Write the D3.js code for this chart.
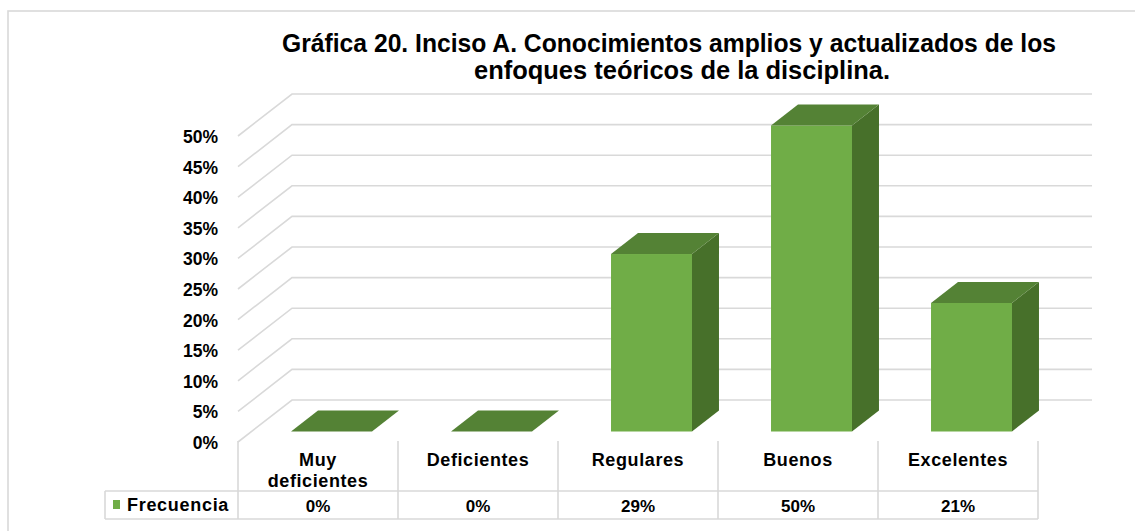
<!DOCTYPE html>
<html>
<head>
<meta charset="utf-8">
<script src="https://cdn.jsdelivr.net/npm/d3@7"></script>
<style>
  body{margin:0;background:#fff;}
  svg{display:block;font-family:"Liberation Sans",Arial,sans-serif;}
  .grid{fill:none;stroke:#d9d9d9;stroke-width:1.6;}
  .tbl{stroke:#d9d9d9;stroke-width:1.6;}
  text{fill:#000;font-weight:bold;}
</style>
</head>
<body>
<div id="chart"></div>
<script>
const titleLines=['Gráfica 20. Inciso A. Conocimientos amplios y actualizados de los','enfoques teóricos de la disciplina.'];
const categories=['Muy deficientes','Deficientes','Regulares','Buenos','Excelentes'];
const catLabels=[['Muy','deficientes'],['Deficientes'],['Regulares'],['Buenos'],['Excelentes']];
const values=[0,0,0.29,0.50,0.21];
const valueLabels=['0%','0%','29%','50%','21%'];
const yTicks=[0,0.05,0.10,0.15,0.20,0.25,0.30,0.35,0.40,0.45,0.50];
const seriesName='Frecuencia';

const W=1135,H=531;
const DX=54,DY=-42; // depth of the 3d box
const svg=d3.select('#chart').append('svg').attr('width',W).attr('height',H);

svg.append('rect').attr('x',8).attr('y',11).attr('width',1200).attr('height',600)
  .attr('fill','none').attr('stroke','#d9d9d9').attr('stroke-width',1.6);

const x=d3.scaleBand().domain(categories).range([238,1038]).paddingInner(0.494).paddingOuter(0.247);
const y=d3.scaleLinear().domain([0,0.5]).range([442,136]);
const xc=d3.scaleBand().domain(categories).range([238,1038]);

// title (Excel centres the two lines a bit differently)
const tPos=[{x:282,len:774},{x:474,len:416}];
svg.append('g').selectAll('text').data(titleLines).enter().append('text')
  .attr('x',(d,i)=>tPos[i].x).attr('y',(d,i)=>52+i*27)
  .attr('textLength',(d,i)=>tPos[i].len).attr('lengthAdjust','spacingAndGlyphs')
  .style('font-size','25px').text(d=>d);

// gridlines (side wall + back wall)
svg.append('g').selectAll('path').data(yTicks).enter().append('path')
  .attr('class','grid')
  .attr('d',d=>`M${xc.range()[0]},${y(d)}L${xc.range()[0]+DX},${y(d)+DY}L${xc.range()[1]+DX},${y(d)+DY}`);

svg.append('g').selectAll('text').data(yTicks).enter().append('text')
  .attr('x',218).attr('y',d=>y(d)+7).attr('text-anchor','end')
  .style('font-size','17.5px').text(d3.format('.0%'));

// bars
const data=categories.map((c,i)=>({c,v:values[i]}));
const bw=x.bandwidth(),bdx=DX*0.5,bdy=DY*0.5;
const bars=svg.append('g').selectAll('g').data(data).enter().append('g');
const fx=d=>x(d.c)+DX*0.25, fy0=()=>y(0)+DY*0.25, fy1=d=>y(d.v)+DY*0.25;
bars.append('rect').attr('x',fx).attr('y',fy1).attr('width',bw).attr('height',d=>fy0()-fy1(d))
  .attr('fill','#70ad47');
bars.append('path').attr('fill','#47702a')
  .attr('d',d=>`M${fx(d)+bw},${fy1(d)}L${fx(d)+bw+bdx},${fy1(d)+bdy}L${fx(d)+bw+bdx},${fy0()+bdy}L${fx(d)+bw},${fy0()}Z`);
bars.append('path').attr('fill','#548235')
  .attr('d',d=>`M${fx(d)},${fy1(d)}L${fx(d)+bdx},${fy1(d)+bdy}L${fx(d)+bw+bdx},${fy1(d)+bdy}L${fx(d)+bw},${fy1(d)}Z`);

// data table
const tb=svg.append('g');
const x0=xc.range()[0],x1=xc.range()[1];
tb.selectAll('line.v').data(d3.range(categories.length+1)).enter().append('line')
  .attr('class','tbl').attr('x1',i=>x0+i*xc.step()).attr('x2',i=>x0+i*xc.step()).attr('y1',441).attr('y2',519);
tb.append('line').attr('class','tbl').attr('x1',105).attr('x2',x1).attr('y1',491).attr('y2',491);
tb.append('line').attr('class','tbl').attr('x1',105).attr('x2',x1).attr('y1',519).attr('y2',519);
tb.append('line').attr('class','tbl').attr('x1',105).attr('x2',105).attr('y1',491).attr('y2',519);

const cl=tb.selectAll('text.cat').data(categories).enter().append('text')
  .attr('text-anchor','middle').style('font-size','18px').style('letter-spacing','0.6px');
cl.selectAll('tspan').data((d,i)=>catLabels[i].map(t=>({t,x:xc(d)+xc.bandwidth()/2}))).enter().append('tspan')
  .attr('x',d=>d.x).attr('y',(d,i)=>466+i*21).text(d=>d.t);

tb.selectAll('text.val').data(categories).enter().append('text')
  .attr('x',d=>xc(d)+xc.bandwidth()/2).attr('y',512).attr('text-anchor','middle')
  .style('font-size','17px').text((d,i)=>valueLabels[i]);

tb.append('rect').attr('x',113).attr('y',500).attr('width',7).attr('height',9).attr('fill','#70ad47');
tb.append('text').attr('x',127).attr('y',511).style('font-size','18px').style('letter-spacing','0.7px').text(seriesName);
</script>
</body>
</html>
